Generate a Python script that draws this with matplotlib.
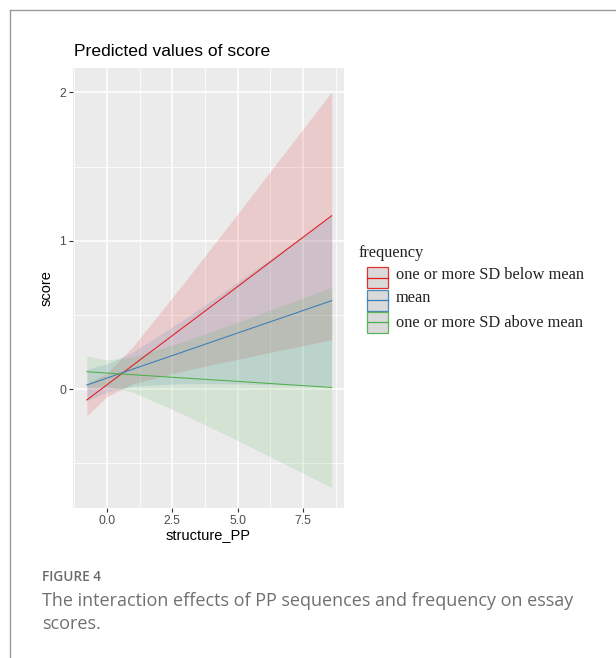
import matplotlib
matplotlib.use("Agg")
import matplotlib.pyplot as plt
from matplotlib.patches import Rectangle
from matplotlib.lines import Line2D
from matplotlib.ticker import MultipleLocator

# ---- data ----
x_vals = [-0.76, 0.0, 1.0, 3.0, 5.0, 7.0, 8.59]

groups = ["one or more SD below mean", "mean", "one or more SD above mean"]
colors = ["#e41a1c", "#377eb8", "#4daf4a"]

below_pred = [-0.072, 0.029, 0.162, 0.427, 0.692, 0.958, 1.169]
below_lo = [-0.180, -0.050, 0.037, 0.126, 0.202, 0.276, 0.334]
below_hi = [0.036, 0.108, 0.287, 0.728, 1.182, 1.640, 2.004]

mean_pred = [0.029, 0.075, 0.136, 0.257, 0.379, 0.500, 0.597]
mean_lo = [-0.078, -0.019, 0.021, 0.038, 0.036, 0.028, 0.022]
mean_hi = [0.136, 0.169, 0.251, 0.476, 0.722, 0.972, 1.172]

above_pred = [0.118, 0.109, 0.098, 0.075, 0.053, 0.030, 0.012]
above_lo = [0.012, 0.021, -0.020, -0.175, -0.346, -0.522, -0.663]
above_hi = [0.224, 0.197, 0.216, 0.325, 0.452, 0.582, 0.687]

x_ticks = [0.0, 2.5, 5.0, 7.5]
x_ticklabels = ["0.0", "2.5", "5.0", "7.5"]
y_ticks = [0, 1, 2]
y_ticklabels = ["0", "1", "2"]

W, H = 616, 658
fig = plt.figure(figsize=(W / 100, H / 100), dpi=100)
fig.patch.set_facecolor("white")


def fx(px):
    return px / W


def fy(py):
    return 1 - py / H


# panel
p_left, p_right, p_top, p_bottom = 73, 344, 68, 508
ax = fig.add_axes([fx(p_left), fy(p_bottom), (p_right - p_left) / W, (p_bottom - p_top) / H])
ax.set_facecolor("#ebebeb")
for s in ax.spines.values():
    s.set_visible(False)

ax.set_xlim(-1.29, 9.06)
ax.set_ylim(-0.80, 2.164)

ax.xaxis.set_major_locator(MultipleLocator(2.5))
ax.xaxis.set_minor_locator(MultipleLocator(1.25))
ax.yaxis.set_major_locator(MultipleLocator(1))
ax.yaxis.set_minor_locator(MultipleLocator(0.5))
ax.grid(which="major", color="white", linewidth=1.1)
ax.grid(which="minor", color="white", linewidth=0.55)
ax.set_axisbelow(True)

ax.set_xticks(x_ticks)
ax.set_xticklabels(x_ticklabels)
ax.set_yticks(y_ticks)
ax.set_yticklabels(y_ticklabels)
ax.tick_params(which="major", length=3, width=0.8, color="#333333",
               labelsize=8.8, labelcolor="#4d4d4d", pad=2)
ax.tick_params(which="minor", length=0)

series = [
    (below_pred, below_lo, below_hi),
    (mean_pred, mean_lo, mean_hi),
    (above_pred, above_lo, above_hi),
]
for (pred, lo, hi), c in zip(series, colors):
    ax.fill_between(x_vals, lo, hi, color=c, alpha=0.15, linewidth=0)
for (pred, lo, hi), c in zip(series, colors):
    ax.plot(x_vals, pred, color=c, linewidth=0.75)

ax.set_xlabel("structure_PP", fontsize=10.5, family="Liberation Sans", labelpad=1)
ax.set_ylabel("score", fontsize=10.5, family="Liberation Sans", labelpad=4)
for lab in ax.get_xticklabels() + ax.get_yticklabels():
    lab.set_family("Liberation Sans")

fig.text(fx(74), fy(52), "Predicted values of score", fontsize=12.6,
         family="Liberation Sans", ha="left", va="center", color="black")

# legend
fig.text(fx(359), fy(253), "frequency", fontsize=11.8, family="Liberation Serif",
         ha="left", va="center", color="#222222")
box_tops = [267, 289.5, 312]
label_y = [275, 298, 323]
for c, g, bt, ly in zip(colors, groups, box_tops, label_y):
    fig.add_artist(Rectangle((fx(367), fy(bt + 21)), 21 / W, 21 / H,
                             transform=fig.transFigure, facecolor="#d6d6d6",
                             edgecolor=c, linewidth=0.9, alpha=0.9))
    fig.add_artist(Line2D([fx(367), fx(388)], [fy(bt + 10.5), fy(bt + 10.5)],
                          transform=fig.transFigure, color=c, linewidth=0.9))
    fig.text(fx(396), fy(ly), g, fontsize=11.8, family="Liberation Serif",
             ha="left", va="center", color="#222222")

# frame lines
fig.add_artist(Line2D([fx(10), 1.0], [fy(10), fy(10)], transform=fig.transFigure,
                      color="#9a9a9a", linewidth=1.0))
fig.add_artist(Line2D([fx(10), fx(10)], [fy(10), 0.0], transform=fig.transFigure,
                      color="#9a9a9a", linewidth=1.0))

# caption
fig.text(fx(42), fy(577), "FIGURE 4", fontsize=9.8, family="Open Sans",
         weight="semibold", ha="left", va="center", color="#6b6b6b")
fig.text(fx(42), fy(601), "The interaction effects of PP sequences and frequency on essay",
         fontsize=13.0, family="Open Sans", ha="left", va="center", color="#707070")
fig.text(fx(42), fy(624), "scores.", fontsize=13.0, family="Open Sans",
         ha="left", va="center", color="#707070")

fig.savefig("out.png", dpi=100, facecolor="white")
